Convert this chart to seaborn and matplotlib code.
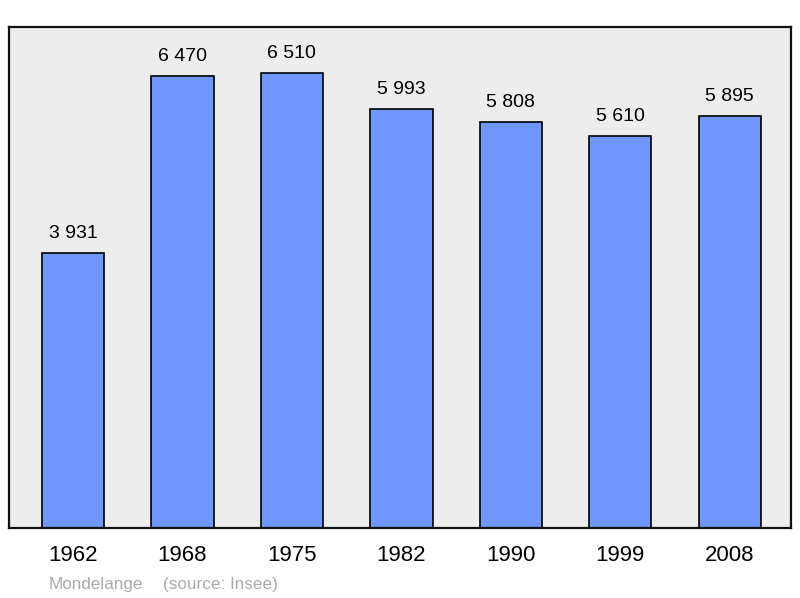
#!/usr/bin/env python3
"""
Population bar chart for Mondelange (Insee census years).
"""

import matplotlib
matplotlib.use("Agg")
import matplotlib.pyplot as plt
import pandas as pd
import seaborn as sns

years = ["1962", "1968", "1975", "1982", "1990", "1999", "2008"]
population = [3931, 6470, 6510, 5993, 5808, 5610, 5895]
value_labels = ["3 931", "6 470", "6 510", "5 993", "5 808", "5 610", "5 895"]


def main() -> int:
    df = pd.DataFrame({"year": years, "population": population})

    sns.set_style("white")
    plt.rcParams["font.family"] = ["Liberation Sans", "DejaVu Sans"]

    fig = plt.figure(figsize=(8, 5.98), dpi=100)
    ax = fig.add_axes([9 / 800, 70 / 598, 782 / 800, 501 / 598])
    ax.set_facecolor("#ededed")

    sns.barplot(
        data=df,
        x="year",
        y="population",
        color="#7096ff",
        saturation=1,
        width=0.57,
        edgecolor="black",
        linewidth=1.2,
        ax=ax,
    )

    for i, (v, lab) in enumerate(zip(population, value_labels)):
        ax.text(i, v + 160, lab, ha="center", va="bottom", fontsize=14, color="black")

    ax.set_xlim(-0.585, 6.56)
    ax.set_ylim(0, 7170)
    ax.set_yticks([])
    ax.set_xlabel("")
    ax.set_ylabel("")
    ax.tick_params(axis="x", length=0, pad=12, labelsize=16, labelcolor="black")
    for s in ax.spines.values():
        s.set_visible(True)
        s.set_color("#111111")
        s.set_linewidth(1.6)

    fig.text(49 / 800, 1 - 584 / 598, "Mondelange", color="#aaaaaa",
             fontsize=12.3, va="center", ha="left")
    fig.text(163 / 800, 1 - 584 / 598, "(source: Insee)", color="#aaaaaa",
             fontsize=12.3, va="center", ha="left")

    fig.savefig("out.png", dpi=100)
    return 0


if __name__ == "__main__":
    raise SystemExit(main())
